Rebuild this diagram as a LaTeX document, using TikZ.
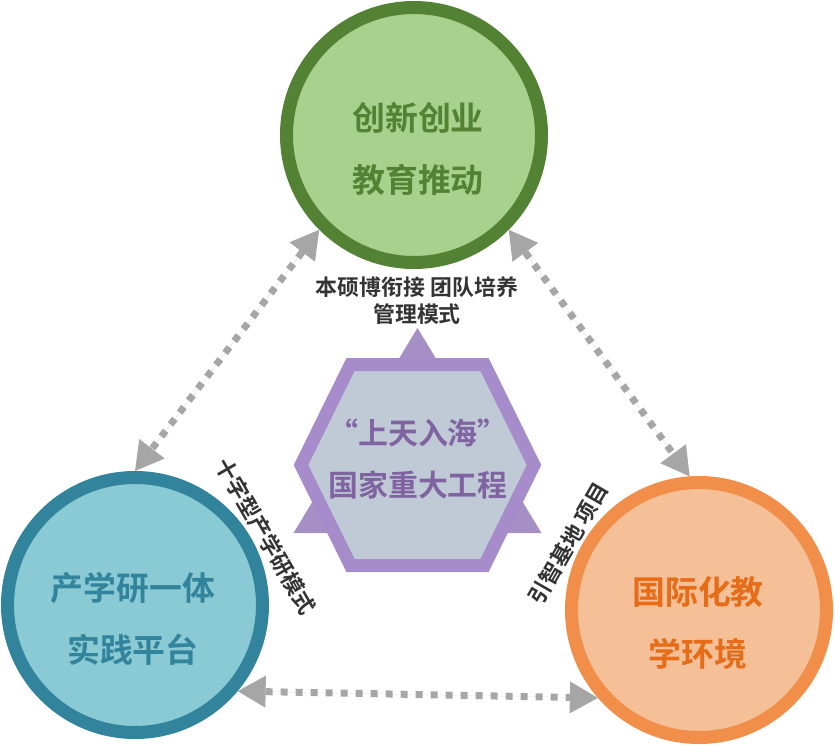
\documentclass[tikz,border=0pt]{standalone}
\usepackage{fontspec}
\setmainfont{Noto Sans CJK SC}[BoldFont={Noto Sans CJK SC Bold}]
\usetikzlibrary{arrows.meta,calc}
\definecolor{greenring}{RGB}{84,130,53}
\definecolor{greenfill}{RGB}{169,209,142}
\definecolor{tealring}{RGB}{49,132,155}
\definecolor{tealfill}{RGB}{138,202,212}
\definecolor{orangering}{RGB}{240,142,74}
\definecolor{orangefill}{RGB}{245,192,152}
\definecolor{orangetext}{RGB}{230,108,24}
\definecolor{hubring}{RGB}{166,140,202}
\definecolor{hubtri}{RGB}{165,143,196}
\definecolor{hubfill}{RGB}{192,201,214}
\definecolor{hubtext}{RGB}{128,100,162}
\definecolor{linkgray}{RGB}{166,166,166}
\definecolor{notetext}{RGB}{51,51,51}

\begin{document}
\begin{tikzpicture}[
  x=1bp, y=-1bp,
  every node/.style={font=\bfseries},
  %% the three big rings
  ring/.style={
    circle, line width=13bp,
    minimum size=255bp, inner sep=0pt
  },
  %% text inside a ring
  ringtxt/.style={
    align=center, inner sep=0pt,
    font=\fontsize{33}{62}\selectfont\bfseries
  },
  %% small dark notes between the rings
  note/.style={
    align=center, inner sep=0pt, text=notetext,
    font=\fontsize{22}{27}\selectfont\bfseries
  },
  %% dotted two-way links
  link/.style={
    {Triangle[length=28bp,width=32bp,line width=0pt]}-{Triangle[length=28bp,width=32bp,line width=0pt]},
    line width=7bp, draw=linkgray, fill=linkgray,
    dash pattern=on 7bp off 8bp
  },
]
\useasboundingbox (0,0) rectangle (835,745);

%%── Rings ────────────────────────────────────────────────────────────────────
\node[ring, draw=greenring, fill=greenfill] (green) at (414,135) {};
\node[ringtxt, text=greenring] (greentxt) at (418,149)
  {创新创业\\教育推动};

\node[ring, draw=tealring, fill=tealfill] (teal) at (135,605) {};
\node[ringtxt, text=tealring] (tealtxt) at (133,619)
  {产学研一体\\实践平台};

\node[ring, draw=orangering, fill=orangefill] (orange) at (699,610) {};
\node[ringtxt, text=orangetext] (orangetxt) at (698,623)
  {国际化教\\学环境};

%%── Central hexagon over a triangle ─────────────────────────────────────────
\coordinate (hub) at (417.5,465);
\fill[hubtri] ($(hub)+(0,-137)$) -- ($(hub)+(124,68)$)
  -- ($(hub)+(-124,68)$) -- cycle;
\draw[hubring, fill=hubfill, line width=13bp, line join=miter]
  ($(hub)+(-67,-100.5)$) -- ($(hub)+(67,-100.5)$)
  -- ($(hub)+(116.5,0)$) -- ($(hub)+(67,100.5)$)
  -- ($(hub)+(-67,100.5)$) -- ($(hub)+(-116.5,0)$) -- cycle;
\node[align=center, inner sep=0pt, text=hubtext,
      font=\fontsize{30}{53}\selectfont\bfseries] (hubtxt) at (418,459)
  {“上天入海”\\国家重大工程};

%%── Notes ───────────────────────────────────────────────────────────────────
\node[note] (topnote) at (417,301)
  {本硕博衔接 团队培养\\管理模式};
\node[note, rotate=-60] (leftnote) at (266,536)
  {十字型产学研模式};
\node[note, rotate=60] (rightnote) at (568,543)
  {引智基地 项目};

%%── Links ───────────────────────────────────────────────────────────────────
\draw[link] (green.225) -- (teal.90);
\draw[link] (green.-45) -- (orange.94);
\draw[link] (teal.-40) -- (orange.221);

\end{tikzpicture}
\end{document}
